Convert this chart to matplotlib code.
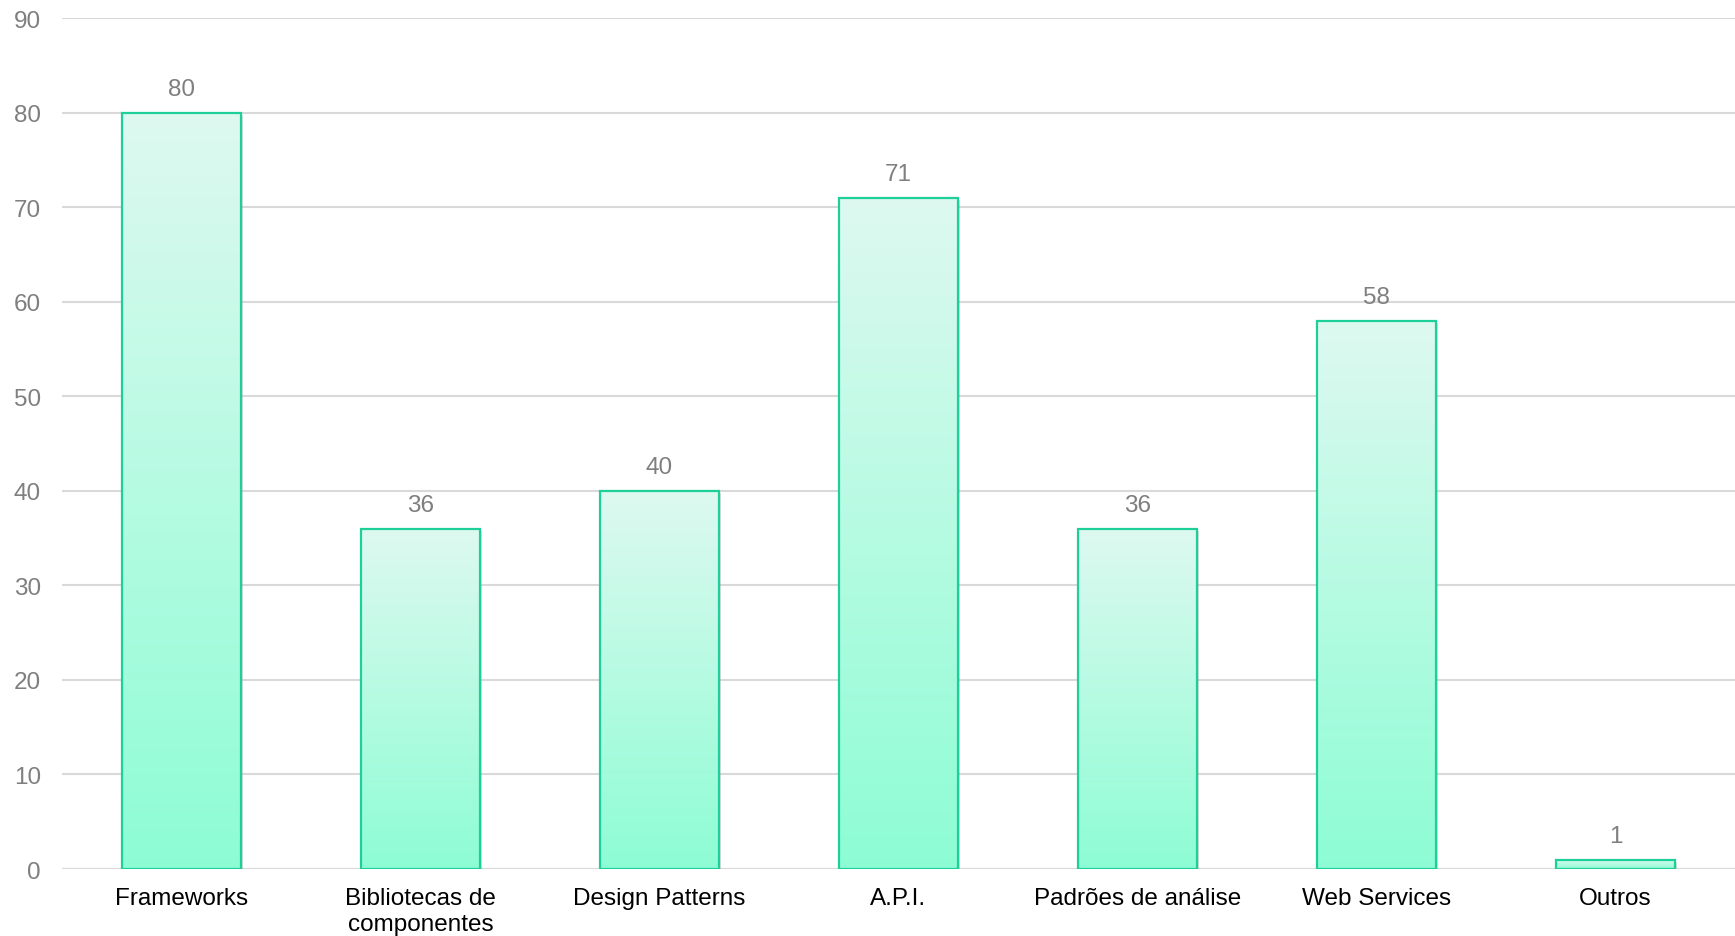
import numpy as np
import matplotlib.pyplot as plt
from matplotlib import patheffects as pe
from matplotlib.colors import LinearSegmentedColormap

plt.rcParams['font.family'] = ['Liberation Sans', 'DejaVu Sans']

categories = ["Frameworks", "Bibliotecas de\ncomponentes", "Design Patterns",
              "A.P.I.", "Padrões de análise", "Web Services", "Outros"]
values = [80, 36, 40, 71, 36, 58, 1]
y_ticks = [0, 10, 20, 30, 40, 50, 60, 70, 80, 90]

fig = plt.figure(figsize=(17.35, 9.37), dpi=100)
ax = fig.add_axes([0.0357, 0.0715, 0.9643, 0.9082])

x = np.arange(len(categories))
width = 0.5

# mint gradient, light at the top of each bar and stronger at its base
cmap = LinearSegmentedColormap.from_list("mint", ["#8dfdd5", "#def9f0"])
grad = np.linspace(0, 1, 256).reshape(-1, 1)

bars = ax.bar(x, values, width=width, facecolor="none", edgecolor="#1dcf98",
              linewidth=1.6, zorder=3)
for b in bars:
    x0, y0 = b.get_x(), b.get_y()
    w, h = b.get_width(), b.get_height()
    shadow = plt.Rectangle((x0, y0), w, h, facecolor="white", edgecolor="none", zorder=2,
                           path_effects=[pe.SimplePatchShadow(offset=(1.5, -1.5), shadow_rgbFace="#999999", alpha=0.35),
                                         pe.Normal()])
    ax.add_patch(shadow)
    im = ax.imshow(grad, extent=(x0, x0 + w, y0, y0 + h), origin="lower", cmap=cmap,
                   aspect="auto", zorder=2.5, interpolation="bilinear")
    im.set_clip_path(b)

for xi, v in zip(x, values):
    ax.annotate(str(v), (xi, v), xytext=(0, 9), textcoords="offset points",
                ha="center", va="bottom", fontsize=17.5, color="#7f7f7f")

ax.set_xlim(-0.5, len(categories) - 0.5)
ax.set_ylim(0, 90)
ax.set_yticks(y_ticks)
ax.set_xticks(x)
ax.set_xticklabels(categories, fontsize=17.5, color="black", linespacing=1.25)
ax.tick_params(axis="y", length=0, pad=15, labelsize=17.5, labelcolor="#7f7f7f")
ax.tick_params(axis="x", length=0, pad=13)
ax.grid(axis="y", color="#d9d9d9", linewidth=1.5, zorder=0)
ax.set_axisbelow(True)
for s in ax.spines.values():
    s.set_visible(False)
ax.axhline(0, color="#d9d9d9", linewidth=1.5, zorder=1)

fig.savefig("out.png", dpi=100)
